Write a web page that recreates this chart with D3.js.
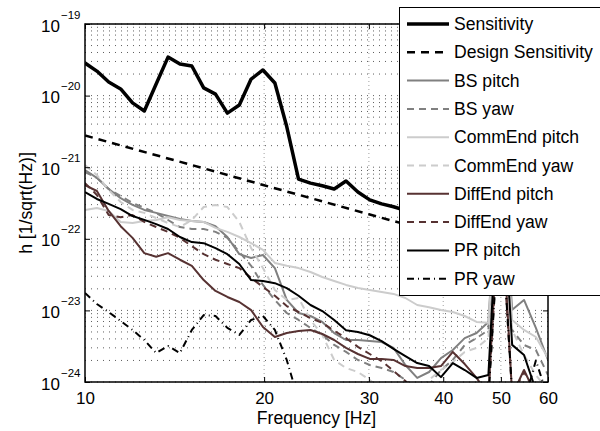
<!DOCTYPE html>
<html>
<head>
<meta charset="utf-8">
<script src="https://cdn.jsdelivr.net/npm/d3@7"></script>
<style>
  body { margin: 0; background: #fff; }
  text { font-family: "Liberation Sans", Arial, sans-serif; }
</style>
</head>
<body>
<div id="chart"></div>
<script>
// Data
const freqs = [10, 10.47, 10.96, 11.48, 12.02, 12.58, 13.17, 13.79, 14.44, 15.12,
  15.83, 16.57, 17.35, 18.17, 19.02, 19.91, 20.85, 21.83, 22.85, 23.93,
  25.05, 26.23, 27.46, 28.75, 30.1, 31.52, 33.0, 34.55, 36.17, 37.87,
  39.65, 41.51, 43.47, 45.51, 47.64, 49.88, 52.23, 54.68, 57.25, 60]

const sensitivity = [2.85e-20, 2.2e-20, 1.55e-20, 1.24e-20, 7.9e-21, 6.1e-21, 1.45e-20, 3.45e-20, 2.76e-20, 2.59e-20,
  1.28e-20, 1.05e-20, 5.7e-21, 7.4e-21, 1.7e-20, 2.28e-20, 1.5e-20, 3.7e-21, 6.8e-22, 6.0e-22,
  5.5e-22, 4.96e-22, 6.4e-22, 4.5e-22, 3.5e-22, 3.07e-22, 2.8e-22, 2.5e-22, 2.36e-22, 2.2e-22,
  2.14e-22, 2.0e-22, 1.95e-22, 1.88e-22, 2.14e-22, 2.4e-21, 2.14e-22, 1.7e-22, 1.55e-22, 1.45e-22]

const designFreqs = [10, 15, 20, 30, 40, 50, 60]
const designSensitivity = [2.77e-21, 1.09e-21, 5.6e-22, 2.2e-22, 1.14e-22, 6.8e-23, 4.5e-23]

const bsPitch = [9.1e-22, 7.1e-22, 4.96e-22, 3.7e-22, 2.97e-22, 2.53e-22, 2.3e-22, 2.08e-22, 1.89e-22, 1.77e-22,
  1.72e-22, 1.5e-22, 1.06e-22, 6.1e-23, 5.4e-23, 5.94e-23, 3.9e-23, 1.4e-23, 9.2e-24, 8.35e-24,
  6.9e-24, 4.83e-24, 3.86e-24, 3.86e-24, 3.74e-24, 3.62e-24, 2.99e-24, 1.73e-24, 1.14e-24, 1.38e-24,
  2.16e-24, 2.8e-24, 4.1e-24, 4.83e-24, 6.9e-24, 3.3e-21, 1.02e-23, 1.4e-23, 5.7e-24, 2.03e-24]

const bsYaw = [8.56e-22, 7.1e-22, 4.96e-22, 3.96e-22, 3.17e-22, 2.7e-22, 2.3e-22, 1.83e-22, 1.46e-22, 1.37e-22,
  1.37e-22, 1.25e-22, 1.03e-22, 6.55e-23, 4.2e-23, 2.27e-23, 1.4e-23, 9.2e-24, 7.35e-24, 5.7e-24,
  4.54e-24, 3.29e-24, 2.63e-24, 2.03e-24, 1.73e-24, 1.57e-24, 1.38e-24, 1.07e-24, 7.7e-25, 9.1e-25,
  1.47e-24, 2.03e-24, 3.29e-24, 4.1e-24, 5.33e-24, 1.26e-21, 5.33e-24, 3.29e-24, 2.8e-24, 1.25e-24]

const commPitch = [2.53e-22, 2.7e-22, 2.45e-22, 1.72e-22, 1.66e-22, 1.77e-22, 1.83e-22, 2.0e-22, 1.83e-22, 1.77e-22,
  1.72e-22, 1.42e-22, 1.25e-22, 1.06e-22, 8.7e-23, 7.0e-23, 4.6e-23, 4.2e-23, 3.9e-23, 3.44e-23,
  2.93e-23, 2.57e-23, 2.27e-23, 2.05e-23, 1.93e-23, 1.81e-23, 1.7e-23, 1.49e-23, 1.19e-23, 1.11e-23,
  1.01e-23, 9.5e-24, 8.35e-24, 6.9e-24, 6.7e-24, 1.74e-21, 7.35e-24, 5.33e-24, 4.25e-24, 2.16e-24]

const commYaw = [1.07e-21, 7.78e-22, 4.8e-22, 3.27e-22, 2.53e-22, 2.3e-22, 1.95e-22, 1.66e-22, 1.46e-22, 1.83e-22,
  2.78e-22, 2.97e-22, 2.78e-22, 1.72e-22, 7.43e-23, 3.9e-23, 1.93e-23, 1.4e-23, 1.49e-23, 7.35e-24,
  4.54e-24, 2.03e-24, 1.57e-24, 1.38e-24, 1.07e-24, 7.7e-25, 6.6e-25, 6.6e-25, 7.25e-25, 1.07e-24,
  1.47e-24, 1.9e-24, 2.63e-24, 2.99e-24, 4.1e-24, 1.74e-21, 5.33e-24, 2.38e-24, 1.25e-24, 7.7e-25]

const diffPitch = [5.6e-22, 4.65e-22, 2.45e-22, 1.5e-22, 1.03e-22, 6.3e-23, 5.6e-23, 6.3e-23, 5.1e-23, 4.2e-23,
  2.65e-23, 1.87e-23, 1.54e-23, 1.31e-23, 1.01e-23, 5.86e-24, 4.25e-24, 4.83e-24, 5.16e-24, 5.33e-24,
  4.68e-24, 3.86e-24, 2.99e-24, 2.46e-24, 2.1e-24, 2.1e-24, 2.03e-24, 1.67e-24, 1.57e-24, 1.57e-24,
  1.67e-24, 2.63e-24, 1.78e-24, 1.14e-24, 6.6e-25, 6.6e-22, 6.6e-25, 1.47e-24, 6.6e-25, 5.6e-25]

const diffYaw = [6.0e-22, 4.1e-22, 2.15e-22, 2.0e-22, 2.15e-22, 1.72e-22, 1.46e-22, 1.25e-22, 1.03e-22, 7.9e-23,
  6.1e-23, 5.1e-23, 4.45e-23, 3.9e-23, 2.84e-23, 2.13e-23, 1.6e-23, 1.15e-23, 9.5e-24, 7.8e-24,
  6.7e-24, 5.2e-24, 4.1e-24, 3.1e-24, 2.46e-24, 1.96e-24, 1.43e-24, 1.03e-24, 7.25e-25, 6.6e-25,
  6.6e-25, 7.25e-25, 7.7e-25, 7.25e-25, 6.6e-25, 3.5e-22, 6.6e-25, 1.38e-24, 7.25e-25, 5.6e-25]

const prPitch = [4.5e-22, 3.6e-22, 3.07e-22, 2.6e-22, 2.08e-22, 1.84e-22, 1.6e-22, 1.37e-22, 1.06e-22, 9.0e-23,
  8.7e-23, 7.4e-23, 6.1e-23, 4.45e-23, 2.65e-23, 2.57e-23, 2.4e-23, 2.05e-23, 1.6e-23, 1.19e-23,
  9.8e-24, 7.35e-24, 5.3e-24, 5.0e-24, 4.5e-24, 3.73e-24, 2.9e-24, 2.3e-24, 1.84e-24, 1.67e-24,
  1.17e-24, 1.84e-24, 1.47e-24, 1.14e-24, 1.25e-24, 1.74e-21, 3.3e-24, 2.38e-24, 7.7e-25, 6e-25]

const prYaw = [1.75e-23, 1.23e-23, 9.5e-24, 7.1e-24, 5.33e-24, 3.86e-24, 2.54e-24, 3.18e-24, 2.54e-24, 5.33e-24,
  8.6e-24, 8.35e-24, 5.7e-24, 4.54e-24, 7.35e-24, 8.35e-24, 5.33e-24, 2.03e-24, 5.6e-25, 3e-25,
  3e-25, 3e-25, 3e-25, 3e-25, 3e-25, 3e-25, 3e-25, 3e-25, 3e-25, 3e-25,
  3e-25, 3e-25, 3e-25, 3e-25, 5.6e-25, 3.5e-22, 7e-25, 5e-25, 2.0e-24, 6e-25]

const xTickValues = [10, 20, 30, 40, 50, 60]
const yTickValues = [1e-24, 1e-23, 1e-22, 1e-21, 1e-20, 1e-19]
const yTickExponents = ['\u221224', '\u221223', '\u221222', '\u221221', '\u221220', '\u221219']

const series = [
  { name: 'Sensitivity', x: freqs, y: sensitivity, color: '#000', width: 3.5, dash: null },
  { name: 'Design Sensitivity', x: designFreqs, y: designSensitivity, color: '#000', width: 2.5, dash: '8,6' },
  { name: 'BS pitch', x: freqs, y: bsPitch, color: '#808080', width: 2, dash: null },
  { name: 'BS yaw', x: freqs, y: bsYaw, color: '#808080', width: 2, dash: '7,5' },
  { name: 'CommEnd pitch', x: freqs, y: commPitch, color: '#cccccc', width: 2, dash: null },
  { name: 'CommEnd yaw', x: freqs, y: commYaw, color: '#cccccc', width: 2, dash: '7,5' },
  { name: 'DiffEnd pitch', x: freqs, y: diffPitch, color: '#573232', width: 2, dash: null },
  { name: 'DiffEnd yaw', x: freqs, y: diffYaw, color: '#573232', width: 2, dash: '7,5' },
  { name: 'PR pitch', x: freqs, y: prPitch, color: '#000', width: 2, dash: null },
  { name: 'PR yaw', x: freqs, y: prYaw, color: '#000', width: 2, dash: '7,4,1,4' }
]

// Const variables
const width = 600
const height = 431
const margin = { top: 24, right: 52, bottom: 49, left: 85 }
const fontSize = 17

const svg = d3.select('#chart')
  .append('svg')
    .attr('width', width)
    .attr('height', height)

const x = d3.scaleLog()
  .domain([10, 60])
  .range([margin.left, width - margin.right])

const y = d3.scaleLog()
  .domain([1e-24, 1e-19])
  .range([height - margin.bottom, margin.top])

const x0 = margin.left, x1 = width - margin.right
const y0 = height - margin.bottom, y1 = margin.top

// Clip for the traces
svg.append('clipPath')
    .attr('id', 'plotClip')
  .append('rect')
    .attr('x', x0)
    .attr('y', y1)
    .attr('width', x1 - x0)
    .attr('height', y0 - y1)

// Grid
svg.append('g')
  .selectAll('line')
  .data(y.ticks())
  .enter()
  .append('line')
    .attr('x1', x0)
    .attr('x2', x1)
    .attr('y1', d => y(d))
    .attr('y2', d => y(d))
    .attr('stroke', '#333')
    .attr('stroke-width', 0.8)
    .attr('stroke-dasharray', '1,5')

svg.append('g')
  .selectAll('line')
  .data(xTickValues.slice(1, -1))
  .enter()
  .append('line')
    .attr('x1', d => x(d))
    .attr('x2', d => x(d))
    .attr('y1', y0)
    .attr('y2', y1)
    .attr('stroke', '#888')
    .attr('stroke-width', 0.8)
    .attr('stroke-dasharray', '1,3')

// Traces
const line = d3.line()
  .x(d => x(d[0]))
  .y(d => y(d[1]))

const traces = svg.append('g').attr('clip-path', 'url(#plotClip)')
series.forEach(s => {
  traces.append('path')
    .datum(s.x.map((f, i) => [f, s.y[i]]))
    .attr('fill', 'none')
    .attr('stroke', s.color)
    .attr('stroke-width', s.width)
    .attr('stroke-dasharray', s.dash)
    .attr('stroke-linejoin', 'round')
    .attr('d', line)
})

// Axes
const styleAxis = g => {
  g.select('.domain').remove()
  g.selectAll('.tick line').attr('stroke', '#000')
  g.selectAll('text').attr('font-size', fontSize).attr('fill', '#000')
}

svg.append('g')
    .attr('transform', `translate(0,${y0})`)
    .call(d3.axisBottom(x).tickValues(xTickValues).tickSize(-5).tickPadding(10).tickFormat(d3.format('d')))
    .call(styleAxis)

svg.append('g')
    .attr('transform', `translate(0,${y1})`)
    .call(d3.axisTop(x).tickValues(xTickValues).tickSize(-5).tickFormat(''))
    .call(styleAxis)

const yAxis = svg.append('g')
    .attr('transform', `translate(${x0},0)`)
    .call(d3.axisLeft(y).tickValues(yTickValues).tickSize(-5).tickFormat(''))
    .call(styleAxis)

yAxis.selectAll('.tick text').remove()
yAxis.selectAll('.tick').each(function (d, i) {
  const tick = d3.select(this)
  tick.append('text')
    .attr('x', -25)
    .attr('y', 7)
    .attr('text-anchor', 'end')
    .attr('fill', '#000')
    .attr('font-size', fontSize)
    .text('10')
  tick.append('text')
    .attr('x', -24)
    .attr('y', -6)
    .attr('text-anchor', 'start')
    .attr('fill', '#000')
    .attr('font-size', 11.5)
    .text(yTickExponents[i])
})

svg.append('g')
    .attr('transform', `translate(${x1},0)`)
    .call(d3.axisRight(y).tickValues(yTickValues).tickSize(-5).tickFormat(''))
    .call(styleAxis)

// Box
svg.append('rect')
    .attr('x', x0)
    .attr('y', y1)
    .attr('width', x1 - x0)
    .attr('height', y0 - y1)
    .attr('fill', 'none')
    .attr('stroke', '#000')
    .attr('stroke-width', 1.5)

// Labels
svg.append('text')
    .attr('x', (x0 + x1) / 2)
    .attr('y', 424)
    .attr('text-anchor', 'middle')
    .attr('font-size', 17.6)
    .text('Frequency [Hz]')

svg.append('text')
    .attr('transform', `translate(32,${(y0 + y1) / 2}) rotate(-90)`)
    .attr('text-anchor', 'middle')
    .attr('font-size', 17.6)
    .text('h [1/sqrt(Hz)]')

// Legend
const legend = svg.append('g')
legend.append('rect')
    .attr('x', 399.5)
    .attr('y', 7.5)
    .attr('width', 220)
    .attr('height', 288)
    .attr('fill', '#fff')
    .attr('stroke', '#000')
    .attr('stroke-width', 1)

series.forEach((s, i) => {
  const ly = 24 + i * 28.3
  legend.append('line')
    .attr('x1', 407)
    .attr('x2', 449)
    .attr('y1', ly)
    .attr('y2', ly)
    .attr('stroke', s.color)
    .attr('stroke-width', s.width)
    .attr('stroke-dasharray', s.dash)
  legend.append('text')
    .attr('x', 454)
    .attr('y', ly + 6)
    .attr('font-size', 17.6)
    .text(s.name)
})
</script>
</body>
</html>
